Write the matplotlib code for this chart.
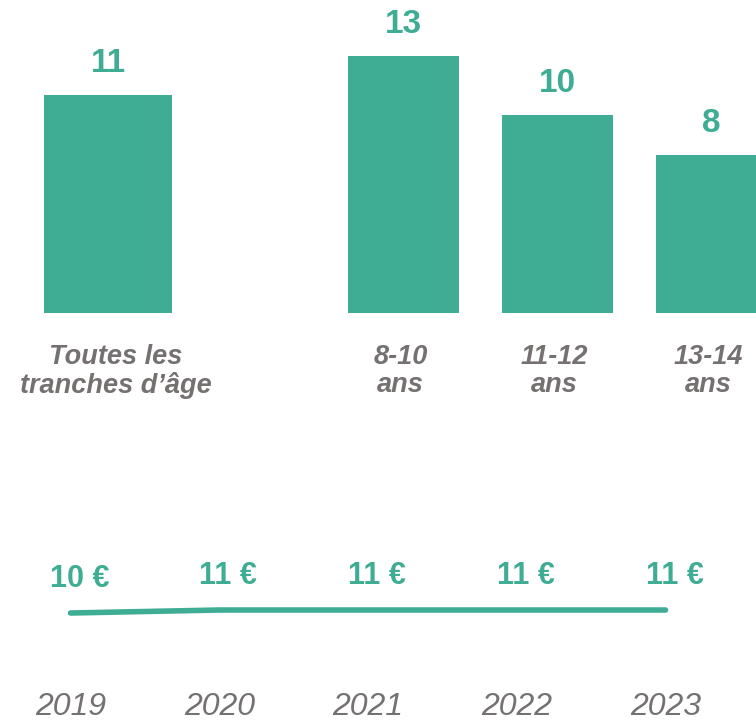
import matplotlib
matplotlib.use("Agg")
import matplotlib.pyplot as plt

# ---- data ----
all_label = ["Toutes les\ntranches d’âge"]
all_value = [11]
age_labels = ["8-10\nans", "11-12\nans", "13-14\nans"]
age_values = [13, 10, 8]
years = ["2019", "2020", "2021", "2022", "2023"]
spend = [10, 11, 11, 11, 11]
spend_labels = ["10 €", "11 €", "11 €", "11 €", "11 €"]

GREEN = "#3EAD93"
GRAY = "#757171"
FONT = ["Liberation Sans", "DejaVu Sans"]

W, H = 756, 721
fig = plt.figure(figsize=(W / 100, H / 100), dpi=100)


def px_axes(left, top, right, bottom):
    return fig.add_axes([left / W, 1 - bottom / H, (right - left) / W, (bottom - top) / H])


unit = 153.75
ymax = 15
bar_bottom = 313
ppu = 19.8
bar_top_px = bar_bottom - ymax * ppu

# left axes: all ages
ax1 = px_axes(108 - 0.5 * unit, bar_top_px, 108 + 0.5 * unit, bar_bottom)
# right axes: age groups
ax2 = px_axes(403.5 - 0.5 * unit, bar_top_px, 403.5 + 2.29 * unit, bar_bottom)

for ax, labels, vals, width, xlim, dx in [
    (ax1, all_label, all_value, 128 / unit, (-0.5, 0.5), 5.5),
    (ax2, age_labels, age_values, 111 / unit, (-0.5, 2.29), -2.0),
]:
    x = list(range(len(vals)))
    ax.bar(x, vals, width=width, color=GREEN, zorder=2)
    ax.set_xlim(*xlim)
    ax.set_ylim(0, ymax)
    for xi, v, lab in zip(x, vals, labels):
        ax.annotate(str(v), (xi, v), xytext=(0, 11.5), textcoords="offset points",
                    ha="center", va="bottom", fontsize=24, fontweight="bold",
                    color=GREEN, family=FONT, annotation_clip=False)
        ax.annotate(lab, (xi, 0), xycoords=("data", "axes fraction"),
                    xytext=(dx, -22), textcoords="offset points",
                    ha="center", va="top", fontsize=19.5, fontweight="bold",
                    style="italic", color=GRAY, family=FONT, linespacing=1.1,
                    annotation_clip=False)
    ax.set_xticks([])
    ax.set_yticks([])
    for s in ax.spines.values():
        s.set_visible(False)
    ax.patch.set_alpha(0)

# line chart
ax3 = px_axes(70.5 - 0.45 * 148.75, 540, 70.5 + 4.6 * 148.75, 650)
xi = list(range(len(years)))
ax3.plot(xi, spend, color=GREEN, lw=4.0, solid_capstyle="round")
ax3.set_xlim(-0.45, 4.6)
ax3.set_ylim(-2.33, 34.33)
for x0, v, lab in zip(xi, spend, spend_labels):
    ax3.annotate(lab, (x0, v), xytext=(6.5, 24.5), textcoords="offset points",
                 ha="center", va="center", fontsize=22, fontweight="bold",
                 color=GREEN, family=FONT)
ax3.set_xticks(xi)
ax3.set_xticklabels(years, fontsize=23, style="italic", color=GRAY, family=FONT)
ax3.tick_params(axis="x", length=0, pad=30.5)
ax3.set_yticks([])
for s in ax3.spines.values():
    s.set_visible(False)
ax3.patch.set_alpha(0)

fig.savefig("out.png", dpi=100)
